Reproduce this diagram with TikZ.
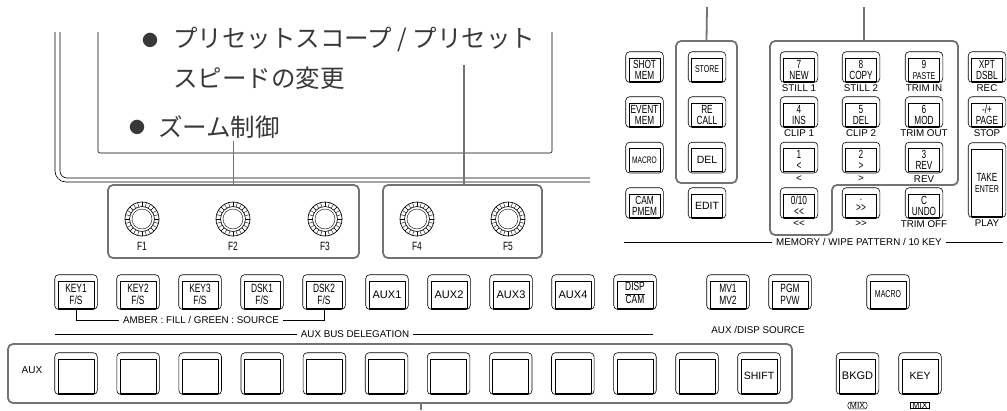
\documentclass[tikz,border=0pt]{standalone}
\usepackage{fontspec}
\setmainfont{Liberation Sans}
\newfontfamily\condfont[FakeStretch=0.7]{Liberation Sans}
\newfontfamily\jpfont{Noto Sans CJK JP}
\newcommand\fsz[2]{\fontsize{#1}{#2}\selectfont}
\usetikzlibrary{calc,positioning}

\begin{document}
\begin{tikzpicture}[
		x=1pt, y=-1pt,
		key/.style={draw, line width=.6pt, minimum width=36pt, minimum height=27pt, inner sep=0pt, align=center, font=\fsz{11}{11}},
		cond/.style={font=\condfont\fsz{12}{11.5}},
		pad/.style={key, font=\condfont\fsz{11.8}{11}, minimum width=31pt, minimum height=23pt},
		busbtn/.style={key, minimum height=34pt},
		rim/.style={draw, line width=.6pt, rounded corners=4pt},
		grp/.style={draw=black!55, line width=1.8pt, rounded corners=5pt, inner sep=0pt},
		lead/.style={draw=black!55, line width=1.8pt},
		lbl/.style={inner sep=1pt, font=\fsz{9.8}{10}},
		thinline/.style={line width=.5pt},
		jp/.style={inner sep=2pt, text=black!78, font=\jpfont\fsz{24.5}{24.5}},
		knob/.style={circle, draw, line width=.7pt, minimum size=34pt, inner sep=0pt,
			path picture={
				\foreach \a in {0,15,...,345}
					\draw[line width=.4pt] ($(path picture bounding box.center)+(\a:12.5pt)$) -- ($(path picture bounding box.center)+(\a:17pt)$);
				\draw[line width=.6pt, fill=white] (path picture bounding box.center) circle (12.5pt);
				\draw[line width=.4pt] (path picture bounding box.center) circle (10pt);
			}},
		mix/.style={draw, line width=.5pt, rounded corners=2.5pt, inner xsep=2pt, inner ysep=.5pt, font=\fsz{8.5}{8.5}}
	]
		\useasboundingbox (0,0) rectangle (1007,410);

		% screen
		\draw[line width=.6pt, rounded corners=11pt] (55,32) -- (55,182) -- (590,182);
		\draw[line width=.6pt, rounded corners=7pt] (60,32) -- (60,178) -- (590,178);
		\draw[line width=.6pt, rounded corners=2pt] (98,32) -- (98,153) -- (552,153) -- (552,32);

		\node[jp, font=\jpfont\fsz{16}{16}] (bulA) at (150,40) {●};
		\node[jp, anchor=west] (scrA) at (171,40) {プリセットスコープ / プリセット};
		\node[jp, anchor=west] (scrB) at (171,78) {スピードの変更};
		\node[jp, font=\jpfont\fsz{16}{16}] (bulB) at (137,127) {●};
		\node[jp, anchor=west] (scrC) at (156,127) {ズーム制御};

		% knobs
		\node[grp, minimum width=251pt, minimum height=73pt] (knobsA) at (233.5,221.5) {};
		\node[grp, minimum width=159pt, minimum height=73pt] (knobsB) at (462.5,221.5) {};
		\foreach \i/\x in {1/142,2/233,3/325,4/417,5/508} {
			\node[knob] (knob\i) at (\x,219) {};
			\node[cond, inner sep=0pt] (f\i) at (\x,246.5) {F\i};
		}
		\draw[lead] (scrC.south -| knobsA.north) -- (knobsA.north);
		\coordinate (presetlead) at (464,65);
		\draw[lead] (presetlead) -- (presetlead |- knobsB.north);

		% memory buttons
		\node[pad] (shotmem) at (644.5,69.5) {SHOT\\MEM};
		\node[pad] (eventmem) at (644.5,114.5) {EVENT\\MEM};
		\node[pad, font=\condfont\fsz{9.5}{9}] (macromem) at (644.5,160) {MACRO};
		\node[pad] (campmem) at (644.5,205.5) {CAM\\PMEM};
		\node[pad, font=\condfont\fsz{10}{9}] (store) at (707,69.5) {STORE};
		\node[pad] (recall) at (707,114.5) {RE\\CALL};
		\node[pad, font=\fsz{10.5}{10}] (del) at (707,160) {DEL};
		\node[pad, font=\fsz{10.5}{10}] (edit) at (707,205.5) {EDIT};
		\node[grp, minimum width=61pt, minimum height=142pt] (storegrp) at (706.5,112) {};
		\coordinate (storelead) at (707,7);
		\draw[lead] (storelead) -- (storegrp.north);

		% ten key
		\node[pad] (k7) at (799,69.5) {7\\NEW};
		\node[pad] (k8) at (861,69.5) {8\\COPY};
		\node[pad] (k9) at (924,69.5) {9\\{\fsz{10}{9}PASTE}};
		\node[pad] (xpt) at (987,69.5) {XPT\\DSBL};
		\node[pad] (k4) at (799,114.5) {4\\INS};
		\node[pad] (k5) at (861,114.5) {5\\DEL};
		\node[pad] (k6) at (924,114.5) {6\\MOD};
		\node[pad] (page) at (987,114.5) {-/+\\PAGE};
		\node[pad] (k1) at (799,160) {1\\<};
		\node[pad] (k2) at (861,160) {2\\>};
		\node[pad] (k3) at (924,160) {3\\REV};
		\node[pad, minimum height=67pt] (take) at (987,182.5) {TAKE\\{\fsz{10}{9}ENTER}};
		\node[pad] (k0) at (799,205.5) {0/10\\<\kern0pt<};
		\node[pad] (kdot) at (861,205.5) {.\\>\kern0pt>};
		\node[pad] (kc) at (924,205.5) {C\\UNDO};

		\node[lbl, below=2.5pt of k7] (k7lab) {STILL 1};
		\node[lbl, below=2.5pt of k8] (k8lab) {STILL 2};
		\node[lbl, below=2.5pt of k9] (k9lab) {TRIM IN};
		\node[lbl, below=2.5pt of xpt] (xptlab) {REC};
		\node[lbl, below=2.5pt of k4] (k4lab) {CLIP 1};
		\node[lbl, below=2.5pt of k5] (k5lab) {CLIP 2};
		\node[lbl, below=2.5pt of k6] (k6lab) {TRIM OUT};
		\node[lbl, below=2.5pt of page] (pagelab) {STOP};
		\node[lbl, below=2.5pt of k1] (k1lab) {<};
		\node[lbl, below=2.5pt of k2] (k2lab) {>};
		\node[lbl, below=2.5pt of k3] (k3lab) {REV};
		\node[lbl, below=2.5pt of take] (takelab) {PLAY};
		\node[lbl, below=2.5pt of k0] (k0lab) {<\kern0pt<};
		\node[lbl, below=2.5pt of kdot] (kdotlab) {>\kern0pt>};
		\node[lbl, below=2.5pt of kc] (kclab) {TRIM OFF};

		\draw[grp] (770,41) -- (958,41) -- (958,185) -- (832,185) -- (832,235) -- (770,235) -- cycle;
		\coordinate (padlead) at (864,7);
		\coordinate (padtop) at (864,41);
		\draw[lead] (padlead) -- (padtop);

		\node[lbl, inner xsep=4pt] (memlab) at (859,242) {MEMORY / WIPE PATTERN / 10 KEY};
		\coordinate (memL) at (624,242);
		\coordinate (memR) at (1003,242);
		\draw[thinline] (memL) -- (memlab.west);
		\draw[thinline] (memlab.east) -- (memR);

		% delegation row
		\node[key, cond] (key1) at (76,294.5) {KEY1\\F/S};
		\node[key, cond] (key2) at (138,294.5) {KEY2\\F/S};
		\node[key, cond] (key3) at (200,294.5) {KEY3\\F/S};
		\node[key, cond] (dsk1) at (262,294.5) {DSK1\\F/S};
		\node[key, cond] (dsk2) at (324,294.5) {DSK2\\F/S};
		\node[key] (aux1) at (387,294.5) {AUX1};
		\node[key] (aux2) at (449,294.5) {AUX2};
		\node[key] (aux3) at (511,294.5) {AUX3};
		\node[key] (aux4) at (573,294.5) {AUX4};
		\node[key, cond] (disp) at (635,294.5) {\begin{tabular}{@{}c@{}}DISP\\\hline CAM\end{tabular}};
		\node[key, cond] (mv) at (728,294.5) {MV1\\MV2};
		\node[key, cond] (pgm) at (790,294.5) {PGM\\PVW};
		\node[key, font=\condfont\fsz{10}{9}] (macro) at (888,294.5) {MACRO};

		\node[lbl, inner xsep=4pt] (amber) at (201,320) {AMBER : FILL / GREEN : SOURCE};
		\draw[thinline] ([yshift=-1.2pt]key1.south) |- (amber.west);
		\draw[thinline] ([yshift=-1.2pt]dsk2.south) |- (amber.east);

		\node[lbl, inner xsep=4pt] (busdel) at (355,334) {AUX BUS DELEGATION};
		\coordinate (busL) at (55,334);
		\coordinate (busR) at (653,334);
		\draw[thinline] (busL) -- (busdel.west);
		\draw[thinline] (busdel.east) -- (busR);

		\node[lbl] (auxdisp) at (758,330) {AUX /DISP SOURCE};

		% aux bus
		\node[grp, minimum width=784pt, minimum height=59pt] (auxgrp) at (400,373.5) {};
		\node[lbl, font=\fsz{10}{10}] (auxlab) at (32,370) {AUX};
		\foreach \i in {1,...,11}
			\node[busbtn] (bus\i) at ({76+62.1*(\i-1)},376) {};
		\node[busbtn, font=\fsz{10.5}{10}] (shift) at (759,376) {SHIFT};
		\node[busbtn] (bkgd) at (857.5,376) {BKGD};
		\node[busbtn, font=\fsz{10.5}{10}] (keymix) at (920,376) {KEY};
		\node[mix] (bkgdmix) at (857.5,405.5) {MIX};
		\node[mix, rounded corners=0pt, line width=1.1pt] (keymixlab) at (920,405.5) {MIX};
		\coordinate (buslead) at (421,410);
		\draw[lead] (auxgrp.south -| buslead) -- (buslead);

		% key rims
		\foreach \n in {shotmem,eventmem,macromem,campmem,store,recall,del,edit,k7,k8,k9,xpt,k4,k5,k6,page,k1,k2,k3,take,k0,kdot,kc,key1,key2,key3,dsk1,dsk2,aux1,aux2,aux3,aux4,disp,mv,pgm,macro,bus1,bus2,bus3,bus4,bus5,bus6,bus7,bus8,bus9,bus10,bus11,shift,bkgd,keymix}
			\draw[rim] ([shift={(-3pt,6pt)}]\n.north west) rectangle ([shift={(3pt,-1.2pt)}]\n.south east);
\end{tikzpicture}
\end{document}
